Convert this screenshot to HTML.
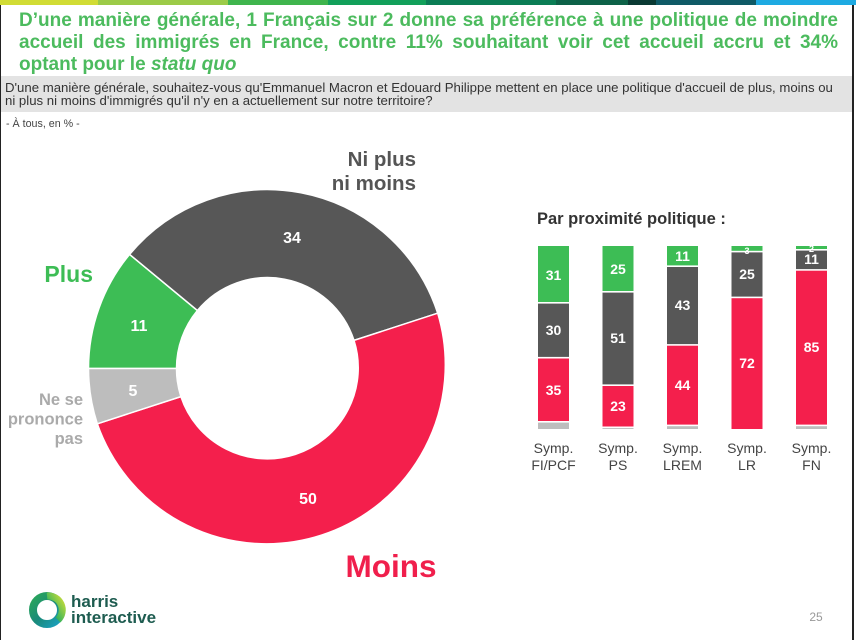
<!DOCTYPE html>
<html><head><meta charset="utf-8">
<style>
html,body{margin:0;padding:0;background:#fff;}
body{width:856px;height:640px;position:relative;overflow:hidden;font-family:"Liberation Sans",Arial,sans-serif;}
.strip{position:absolute;top:0;height:5px;}
.title{position:absolute;left:19px;width:819px;font-size:19px;font-weight:bold;color:#4cbb5e;line-height:22px;white-space:nowrap;}
.j{text-align:justify;text-align-last:justify;white-space:normal;}
.band{position:absolute;left:1px;top:76px;width:851px;height:36px;background:#e3e3e3;}
.q{position:absolute;left:5px;top:80.5px;font-size:13.2px;line-height:13.5px;color:#333;white-space:nowrap;}
.sub{position:absolute;left:6px;top:118px;font-size:10.7px;color:#444;white-space:nowrap;}
.bl{position:absolute;left:0;top:5px;width:1px;height:635px;background:#222;}
.br{position:absolute;left:852px;top:5px;width:2px;height:635px;background:#222;}
</style></head>
<body>
<div class="strip" style="left:0;width:98px;background:#d1dc35"></div>
<div class="strip" style="left:98px;width:130px;background:#9ccb48"></div>
<div class="strip" style="left:228px;width:100px;background:#3fb54d"></div>
<div class="strip" style="left:328px;width:98px;background:#12a05a"></div>
<div class="strip" style="left:426px;width:130px;background:#0b7d55"></div>
<div class="strip" style="left:556px;width:72px;background:#0d6248"></div>
<div class="strip" style="left:628px;width:28px;background:#0a3a33"></div>
<div class="strip" style="left:656px;width:100px;background:#0f5a66"></div>
<div class="strip" style="left:756px;width:100px;background:#1eaae2"></div>
<div class="bl"></div><div class="br"></div>

<div class="title j" style="top:10px">D’une manière générale, 1 Français sur 2 donne sa préférence à une politique de moindre</div>
<div class="title j" style="top:32px">accueil des immigrés en France, contre 11% souhaitant voir cet accueil accru et 34%</div>
<div class="title" style="top:54px">optant pour le <i>statu quo</i></div>

<div class="band"></div>
<div class="q">D'une manière générale, souhaitez-vous qu'Emmanuel Macron et Edouard Philippe mettent en place une politique d'accueil de plus, moins ou<br>ni plus ni moins d'immigrés qu'il n'y en a actuellement sur notre territoire?</div>
<div class="sub">- À tous, en % -</div>

<svg width="856" height="640" style="position:absolute;left:0;top:0" xmlns="http://www.w3.org/2000/svg" font-family="Liberation Sans, Arial, sans-serif">
  <!-- donut -->
  <g stroke="#fff" stroke-width="1.5">
    <path d="M 88.5 368.5 A 179 179 0 0 1 129.6 254.4 L 197.4 310.5 A 91 91 0 0 0 176.5 368.5 Z" fill="#3dbd55"/>
    <path d="M 129.6 254.4 A 179 179 0 0 1 437.7 313.2 L 354.0 340.4 A 91 91 0 0 0 197.4 310.5 Z" fill="#575757"/>
    <path d="M 437.7 313.2 A 179 179 0 0 1 97.3 423.8 L 180.9 396.6 A 91 91 0 0 0 354.0 340.4 Z" fill="#f41f4c"/>
    <path d="M 97.3 423.8 A 179 179 0 0 1 88.5 368.5 L 176.5 368.5 A 91 91 0 0 0 180.9 396.6 Z" fill="#bdbdbd"/>
  </g>
  <g fill="#fff" font-weight="bold" font-size="16" text-anchor="middle">
    <text x="292" y="243">34</text>
    <text x="139" y="331">11</text>
    <text x="133" y="396">5</text>
    <text x="308" y="504">50</text>
  </g>
  <g font-weight="bold" text-anchor="end">
    <text x="416" y="166" font-size="20.5" fill="#555">Ni plus</text>
    <text x="416" y="190" font-size="20.5" fill="#555">ni moins</text>
    <text x="93" y="282" font-size="23" fill="#3dbd55">Plus</text>
    <text x="83" y="405" font-size="16.5" fill="#aaa">Ne se</text>
    <text x="83" y="424.5" font-size="16.5" fill="#aaa">prononce</text>
    <text x="83" y="444" font-size="16.5" fill="#aaa">pas</text>
  </g>
  <text x="391" y="577" font-size="31.5" font-weight="bold" fill="#f01f4c" text-anchor="middle">Moins</text>

  <!-- bars -->
  <text x="537" y="224" font-size="16.5" font-weight="bold" fill="#333">Par proximité politique :</text>
  <rect x="538" y="246" width="31" height="56.7" fill="#3dbd55"/>
  <rect x="538" y="302.7" width="31" height="54.9" fill="#575757"/>
  <rect x="538" y="357.6" width="31" height="64.1" fill="#f41f4c"/>
  <rect x="538" y="421.7" width="31" height="7.3" fill="#bdbdbd"/>
  <rect x="602.5" y="246" width="31" height="45.75" fill="#3dbd55"/>
  <rect x="602.5" y="291.75" width="31" height="93.35" fill="#575757"/>
  <rect x="602.5" y="385.1" width="31" height="42.1" fill="#f41f4c"/>
  <rect x="602.5" y="427.2" width="31" height="1.8" fill="#bdbdbd"/>
  <rect x="667" y="246" width="31" height="20.1" fill="#3dbd55"/>
  <rect x="667" y="266.1" width="31" height="78.7" fill="#575757"/>
  <rect x="667" y="344.8" width="31" height="80.5" fill="#f41f4c"/>
  <rect x="667" y="425.3" width="31" height="3.7" fill="#bdbdbd"/>
  <rect x="731.5" y="246" width="31" height="5.5" fill="#3dbd55"/>
  <rect x="731.5" y="251.5" width="31" height="45.8" fill="#575757"/>
  <rect x="731.5" y="297.3" width="31" height="131.7" fill="#f41f4c"/>
  <rect x="796" y="246" width="31" height="3.7" fill="#3dbd55"/>
  <rect x="796" y="249.7" width="31" height="20.1" fill="#575757"/>
  <rect x="796" y="269.8" width="31" height="155.5" fill="#f41f4c"/>
  <rect x="796" y="425.3" width="31" height="3.7" fill="#bdbdbd"/>
  <g fill="#fff">
    <rect x="537" y="302" width="33" height="1.6"/>
    <rect x="537" y="356.9" width="33" height="1.6"/>
    <rect x="537" y="421" width="33" height="1.6"/>
    <rect x="601.5" y="291" width="33" height="1.6"/>
    <rect x="601.5" y="384.4" width="33" height="1.6"/>
    <rect x="601.5" y="426.5" width="33" height="1.6"/>
    <rect x="666" y="265.4" width="33" height="1.6"/>
    <rect x="666" y="344.1" width="33" height="1.6"/>
    <rect x="666" y="424.6" width="33" height="1.6"/>
    <rect x="730.5" y="250.8" width="33" height="1.6"/>
    <rect x="730.5" y="296.6" width="33" height="1.6"/>
    <rect x="795" y="249" width="33" height="1.6"/>
    <rect x="795" y="269.1" width="33" height="1.6"/>
    <rect x="795" y="424.6" width="33" height="1.6"/>
  </g>
  <g fill="#fff" font-weight="bold" font-size="14" text-anchor="middle">
    <text x="553.5" y="280">31</text>
    <text x="553.5" y="335">30</text>
    <text x="553.5" y="395">35</text>
    <text x="618" y="274">25</text>
    <text x="618" y="343">51</text>
    <text x="618" y="411">23</text>
    <text x="682.5" y="261">11</text>
    <text x="682.5" y="310">43</text>
    <text x="682.5" y="390">44</text>
    <text x="747" y="279">25</text>
    <text x="747" y="368">72</text>
    <text x="811.5" y="264">11</text>
    <text x="811.5" y="352">85</text>
    <text x="747" y="254" font-size="9">3</text>
    <text x="811.5" y="252" font-size="9">2</text>
  </g>
  <g fill="#444" font-size="14" text-anchor="middle">
    <text x="553.5" y="453">Symp.</text><text x="553.5" y="470">FI/PCF</text>
    <text x="618" y="453">Symp.</text><text x="618" y="470">PS</text>
    <text x="682.5" y="453">Symp.</text><text x="682.5" y="470">LREM</text>
    <text x="747" y="453">Symp.</text><text x="747" y="470">LR</text>
    <text x="811.5" y="453">Symp.</text><text x="811.5" y="470">FN</text>
  </g>

  <!-- logo -->
  <defs>
    <linearGradient id="lg1" x1="0" y1="0" x2="1" y2="1">
      <stop offset="0" stop-color="#2aa65a"/>
      <stop offset="0.5" stop-color="#1a8a7a"/>
      <stop offset="1" stop-color="#1aa0c0"/>
    </linearGradient>
    <linearGradient id="lg2" x1="1" y1="0" x2="0" y2="1">
      <stop offset="0" stop-color="#c9dc3a"/>
      <stop offset="0.6" stop-color="#3db65a"/>
      <stop offset="1" stop-color="#0d6b55"/>
    </linearGradient>
  </defs>
  <circle cx="47" cy="610" r="14" fill="none" stroke="url(#lg1)" stroke-width="8"/>
  <path d="M 47 596 A 14 14 0 0 1 58 620" fill="none" stroke="url(#lg2)" stroke-width="7"/>
  <text x="71" y="607" font-size="17" font-weight="bold" fill="#1e5c50">harris</text>
  <text x="71" y="623" font-size="17" font-weight="bold" fill="#1e5c50">interactive</text>
  <text x="816" y="621" font-size="12" fill="#999" text-anchor="middle">25</text>
</svg>
</body></html>
